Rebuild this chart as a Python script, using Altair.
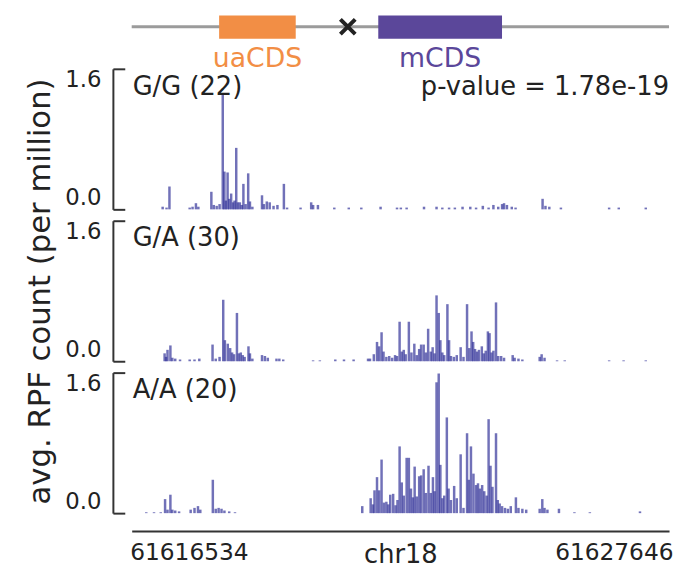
import altair as alt
import pandas as pd

START = 61616534
END = 61627646

genotypes = ["G/G", "G/A", "A/A"]
sample_counts = [22, 30, 20]
p_value_text = "p-value = 1.78e-19"

# offsets (bp from START) and avg RPF values per genotype
gg_offset = [548, 630, 691, 1117, 1178, 1249, 1300, 1574, 1625, 1686, 1747, 1814, 1849, 1879, 1916, 1950,
             1991, 2031, 2062, 2098, 2133, 2174, 2214, 2249, 2296, 2350, 2387, 2438, 2641, 2681, 2742, 2803,
             2884, 2966, 3102, 3169, 3453, 3677, 3718, 3819, 4164, 4469, 4733, 5139, 5485, 5566, 5688, 6054,
             6318, 6440, 6582, 6704, 6866, 7029, 7151, 7293, 7415, 7516, 7618, 7699, 7740, 7801, 7903, 7983,
             8552, 8613, 8694, 8938, 9954, 10157, 10726]
gg_value = [0.03, 0.02, 0.26, 0.02, 0.03, 0.07, 0.03, 0.2, 0.05, 0.04, 0.06, 1.32, 0.43, 0.1, 0.42, 0.12,
            0.18, 0.08, 0.1, 0.7, 0.08, 0.08, 0.05, 0.29, 0.06, 0.41, 0.09, 0.03, 0.16, 0.06, 0.09, 0.08,
            0.04, 0.05, 0.29, 0.02, 0.02, 0.08, 0.05, 0.05, 0.02, 0.02, 0.02, 0.03, 0.02, 0.02, 0.02, 0.03,
            0.03, 0.02, 0.02, 0.02, 0.03, 0.03, 0.02, 0.04, 0.02, 0.05, 0.03, 0.06, 0.07, 0.05, 0.03, 0.02,
            0.12, 0.04, 0.03, 0.02, 0.02, 0.02, 0.02]

ga_offset = [589, 620, 650, 711, 752, 813, 914, 1117, 1219, 1320, 1599, 1666, 1747, 1824, 1859, 1920,
             1970, 2011, 2052, 2113, 2153, 2194, 2235, 2275, 2356, 2387, 2438, 2641, 2702, 2763, 2946, 3006,
             3088, 3717, 3860, 4185, 4368, 4571, 4875, 4916, 4997, 5064, 5109, 5160, 5201, 5261, 5322, 5383,
             5444, 5485, 5540, 5586, 5627, 5668, 5735, 5789, 5850, 5901, 5952, 5993, 6047, 6094, 6141, 6196,
             6236, 6277, 6318, 6364, 6399, 6440, 6480, 6547, 6582, 6622, 6683, 6744, 6826, 6886, 6961, 7008,
             7055, 7090, 7130, 7171, 7211, 7272, 7313, 7354, 7400, 7435, 7476, 7516, 7571, 7618, 7679, 7740,
             7922, 7963, 8044, 8126, 8491, 8532, 8593, 8857, 9019, 9954, 10259, 10726]
ga_value = [0.09, 0.05, 0.13, 0.18, 0.04, 0.03, 0.02, 0.02, 0.02, 0.03, 0.19, 0.03, 0.05, 0.70, 0.24, 0.2,
            0.15, 0.1, 0.08, 0.55, 0.09, 0.1, 0.07, 0.05, 0.17, 0.09, 0.03, 0.07, 0.06, 0.04, 0.03, 0.03,
            0.02, 0.01, 0.01, 0.02, 0.02, 0.02, 0.03, 0.03, 0.08, 0.22, 0.17, 0.33, 0.11, 0.05, 0.06, 0.04,
            0.07, 0.06, 0.45, 0.11, 0.13, 0.08, 0.45, 0.1, 0.2, 0.07, 0.14, 0.19, 0.19, 0.1, 0.37, 0.11,
            0.16, 0.09, 0.75, 0.55, 0.24, 0.1, 0.07, 0.65, 0.24, 0.06, 0.05, 0.07, 0.16, 0.05, 0.65, 0.15,
            0.34, 0.22, 0.14, 0.11, 0.13, 0.17, 0.09, 0.12, 0.34, 0.32, 0.1, 0.12, 0.67, 0.06, 0.06, 0.04,
            0.07, 0.04, 0.03, 0.02, 0.05, 0.08, 0.04, 0.01, 0.01, 0.01, 0.01, 0.01]

aa_offset = [203, 366, 508, 599, 650, 711, 752, 813, 894, 1138, 1219, 1292, 1341, 1605, 1666, 1727,
             1788, 1849, 1950, 2072, 4753, 4930, 4977, 5011, 5064, 5109, 5160, 5210, 5261, 5302, 5343, 5404,
             5454, 5495, 5540, 5586, 5627, 5688, 5735, 5779, 5820, 5857, 5901, 5952, 5993, 6047, 6094, 6149,
             6196, 6242, 6277, 6318, 6364, 6399, 6440, 6480, 6535, 6572, 6622, 6689, 6744, 6826, 6886, 6961,
             6998, 7043, 7096, 7151, 7191, 7232, 7279, 7323, 7374, 7415, 7455, 7496, 7571, 7608, 7648, 7699,
             7760, 7821, 7882, 7990, 8044, 8126, 8207, 8491, 8546, 8593, 8654, 8897, 9223, 9548, 10604]
aa_value = [0.01, 0.01, 0.01, 0.16, 0.04, 0.21, 0.04, 0.03, 0.02, 0.04, 0.06, 0.08, 0.04, 0.38, 0.05, 0.06,
            0.05, 0.03, 0.02, 0.01, 0.08, 0.17, 0.1, 0.26, 0.41, 0.26, 0.61, 0.12, 0.13, 0.1, 0.21, 0.22,
            0.09, 0.15, 0.76, 0.35, 0.2, 0.63, 0.63, 0.28, 0.18, 0.53, 0.19, 0.42, 0.43, 0.5, 0.23, 0.54,
            0.23, 0.41, 0.25, 1.49, 1.59, 0.55, 0.17, 0.2, 1.09, 0.28, 0.15, 0.31, 0.17, 0.67, 0.06, 0.91,
            0.38, 0.76, 0.45, 0.32, 0.34, 0.28, 0.32, 0.25, 0.2, 1.07, 0.54, 0.3, 0.91, 0.15, 0.11, 0.08,
            0.06, 0.05, 0.08, 0.18, 0.06, 0.05, 0.04, 0.05, 0.16, 0.06, 0.04, 0.05, 0.01, 0.01, 0.02]

# gene model
feature_names = ["uaCDS", "mCDS"]
feature_start = [1808, 5099]
feature_end = [3392, 7658]
feature_colors = ["#f28e45", "#5b479a"]
snp_offset = [4469]

W = 543
H = 142
FONT = "DejaVu Sans"
BAR_COLOR = "#2e2e96"
INK = "#222222"

xscale = alt.Scale(domain=[START, END], nice=False, zero=False)
yscale = alt.Scale(domain=[0, 1.6], nice=False, zero=True)

# ---- gene diagram ----
line_df = pd.DataFrame({"start": [START], "end": [END]})
feat_df = pd.DataFrame({
    "name": feature_names,
    "start": [START + s for s in feature_start],
    "end": [START + e for e in feature_end],
})
snp_df = pd.DataFrame({"pos": [START + s for s in snp_offset]})
color_scale = alt.Scale(domain=feature_names, range=feature_colors)

gline = alt.Chart(line_df).mark_rule(color="#9b9b9b", strokeWidth=3).encode(
    x=alt.X("start:Q", scale=xscale, axis=None), x2="end:Q", y=alt.value(15))
boxes = alt.Chart(feat_df).mark_rect().encode(
    x=alt.X("start:Q", scale=xscale, axis=None), x2="end:Q",
    y=alt.value(3.5), y2=alt.value(27),
    color=alt.Color("name:N", scale=color_scale, legend=None))
blabels = alt.Chart(feat_df).transform_calculate(
    mid="(datum.start + datum.end) / 2"
).mark_text(font=FONT, fontSize=27, baseline="alphabetic", align="center").encode(
    x=alt.X("mid:Q", scale=xscale, axis=None), y=alt.value(55.5), text="name:N",
    color=alt.Color("name:N", scale=color_scale, legend=None))
snp = alt.Chart(snp_df).mark_point(
    shape="M-1,-1L1,1M-1,1L1,-1", size=225, strokeWidth=4, color=INK, filled=False, opacity=1
).encode(x=alt.X("pos:Q", scale=xscale, axis=None), y=alt.value(15))
diagram = alt.layer(gline, boxes, blabels, snp).properties(width=W, height=45.5)


def panel(idx, offsets, values, bottom=False, ytitle=False, pval=False):
    df = pd.DataFrame({"pos": [START + o for o in offsets], "value": values})
    if bottom:
        xaxis = alt.Axis(values=[START, END], format="d", labelFlush=False,
                         labelAlign=alt.condition(f"datum.value <= {START}", alt.value("left"),
                                                  alt.value("right")),
                         labelOffset=alt.condition(f"datum.value <= {START}", alt.value(-7),
                                                   alt.value(9)),
                         labelBaseline="top",
                         domain=True, domainColor="#333333", domainWidth=2, ticks=False, grid=False,
                         offset=18, labelFontSize=23.5, labelPadding=10, labelColor=INK,
                         title="chr18", titleFontSize=26, titleFontWeight="normal",
                         titleColor=INK, titleY=32, titleBaseline="alphabetic")
    else:
        xaxis = None
    left_kw = dict(orient="left", values=[0, 1.6], format=".1f", domain=False, ticks=False,
                   tickSize=0, labelPadding=31, labelFlush=True, labelFontSize=23,
                   labelColor=INK, grid=False)
    if ytitle:
        left_axis = alt.Axis(title="avg. RPF count (per million)", titleFontSize=31,
                             titleFontWeight="normal", titleColor=INK, titlePadding=8,
                             **left_kw)
    else:
        left_axis = alt.Axis(title=None, **left_kw)
    bracket_axis = alt.Axis(orient="right", offset=-(W + 19), values=[0, 1.6], labels=False,
                            domain=True, domainColor="#333333", domainWidth=2, ticks=True,
                            tickSize=12, tickColor="#333333", tickWidth=2, grid=False, title=None)
    bars = alt.Chart(df).mark_bar(size=2.5, color=BAR_COLOR, opacity=0.68).encode(
        x=alt.X("pos:Q", scale=xscale, axis=xaxis),
        y=alt.Y("value:Q", scale=yscale, axis=left_axis),
    )
    bracket = alt.Chart(df).mark_point(opacity=0).encode(
        y=alt.Y("value:Q", scale=yscale, axis=bracket_axis),
    )
    lab_df = pd.DataFrame({"label": [f"{genotypes[idx]} ({sample_counts[idx]})"]})
    label = alt.Chart(lab_df).mark_text(font=FONT, fontSize=26, align="left", baseline="middle",
                                        color=INK).encode(
        x=alt.value(1), y=alt.value(18), text="label:N")
    layers = [bars, bracket, label]
    if pval:
        pv_df = pd.DataFrame({"label": [p_value_text]})
        layers.append(alt.Chart(pv_df).mark_text(font=FONT, fontSize=26, align="right",
                                                 baseline="middle", color=INK).encode(
            x=alt.value(W), y=alt.value(18), text="label:N"))
    return alt.layer(*layers).resolve_axis(y="independent").properties(width=W, height=H)


p1 = panel(0, gg_offset, gg_value, pval=True)
p2 = panel(1, ga_offset, ga_value, ytitle=True)
p3 = panel(2, aa_offset, aa_value, bottom=True)

chart = alt.vconcat(diagram, p1, p2, p3, spacing=11.5, bounds="flush").properties(
    padding={"left": 17, "top": 0, "right": 0, "bottom": 0}
).configure(font=FONT, background="white", view=alt.ViewConfig(stroke=None))

chart.save("out.html", embed_options={"renderer": "svg", "actions": False})
